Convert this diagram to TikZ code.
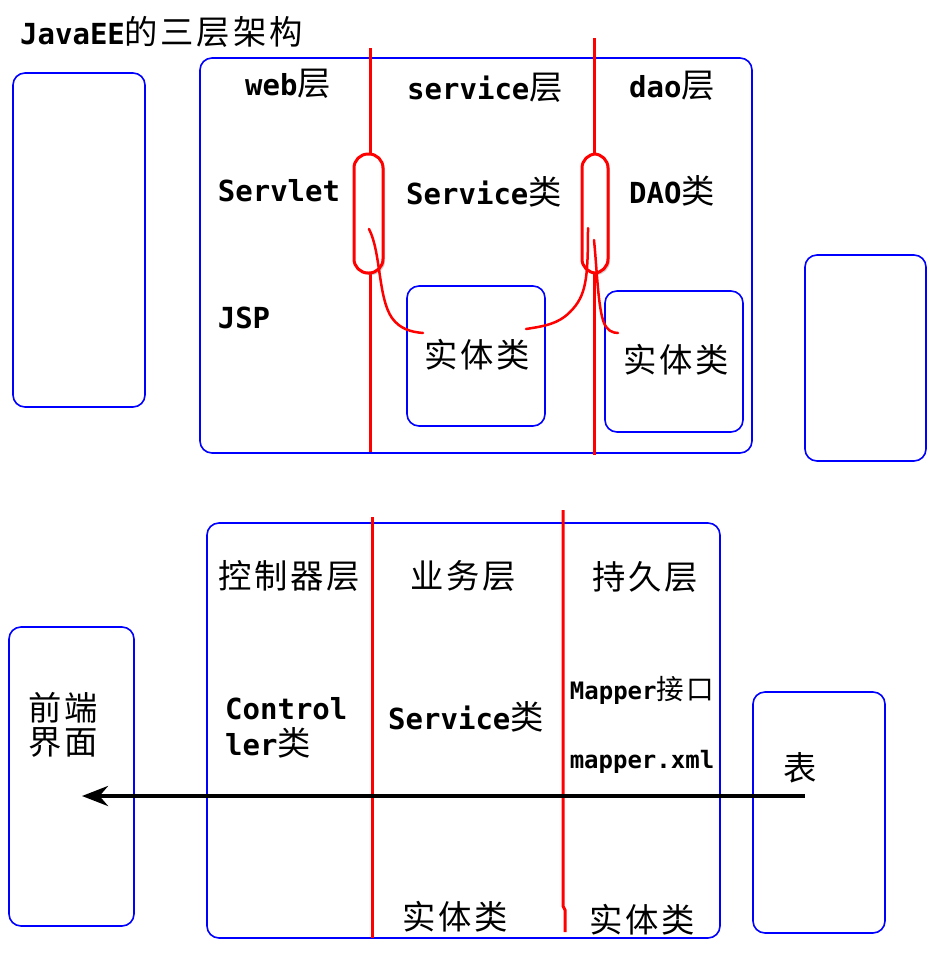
\documentclass[tikz,border=0pt]{standalone}
\usepackage{fontspec}
\setmainfont{DejaVu Sans Mono}
\newfontfamily\cjkfont[Scale=1.15, LetterSpace=8]{Noto Sans CJK SC}
\usetikzlibrary{arrows.meta,shadows}
\newcommand{\zh}[1]{{\mdseries\cjkfont #1}}

\tikzset{
  box/.style={draw=blue, line width=1.6pt, rounded corners=12pt},
  txt/.style={font=\fontsize{29}{34}\selectfont\bfseries, inner sep=0pt},
  smalltxt/.style={font=\fontsize{24}{28}\selectfont\bfseries, inner sep=0pt},
  layerline/.style={draw=red, line width=3pt},
  pill/.style={draw=red, line width=3pt, fill=white, rounded corners=14pt,
    drop shadow={opacity=0.35, shadow xshift=2pt, shadow yshift=-2pt}},
  stroke/.style={red, line width=2.5pt, line cap=round},
}

\begin{document}
\begin{tikzpicture}[x=1pt, y=-1pt]
  \useasboundingbox (0,0) rectangle (933,978);
  \def\headY{86};
  \def\classY{191};
  \def\bheadY{576};
  %
  \node[txt, anchor=west] (title) at (20,32) {JavaEE\zh{的三层架构}};
  % top: three layers
  \draw[box] (13,73) rectangle (145,407);
  \draw[box] (200,58) rectangle (752,453);
  \draw[box] (805,255) rectangle (926,461);
  \draw[box] (407,286) rectangle (545,426);
  \draw[box] (605,291) rectangle (743,432);
  \draw[layerline] (370,48) -- (370,452);
  \draw[layerline] (594,38) -- (594,455);
  \draw[pill] (354,154) rectangle (383,273);
  \draw[pill] (582,154) rectangle (608,273);
  %
  \node[txt] (web)     at (288,\headY-2) {web\zh{层}};
  \node[txt] (service) at (485,\headY+2) {service\zh{层}};
  \node[txt] (dao)     at (672,\headY)   {dao\zh{层}};
  \node[txt] (servlet) at (279,\classY)  {Servlet};
  \node[txt] (srvcls)  at (484,\classY+1) {Service\zh{类}};
  \node[txt] (daocls)  at (672,\classY)  {DAO\zh{类}};
  \node[txt] (jsp)     at (244,318)      {JSP};
  \node[txt] (entityA) at (477,355)      {\zh{实体类}};
  \node[txt] (entityB) at (676,360)      {\zh{实体类}};
  %
  \draw[stroke] (369,229) .. controls (381,252) and (378,298) .. (392,318)
                          .. controls (400,329) and (411,332) .. (423,333);
  \draw[stroke] (526,329) .. controls (545,326) and (558,324) .. (570,312)
                          .. controls (586,296) and (588,280) .. (588,228);
  \draw[stroke] (594,240) .. controls (597,270) and (598,308) .. (604,323)
                          .. controls (607,330) and (612,333) .. (618,333);
  % bottom: three layers
  \draw[box] (9,627) rectangle (134,926);
  \draw[box] (207,523) rectangle (720,938);
  \draw[box] (753,692) rectangle (885,933);
  \draw[layerline] (372,517) -- (372,938);
  \draw[layerline] (563,510) -- (563,906) -- (565,910) -- (565,932);
  %
  \node[txt] (ctrllayer) at (289,\bheadY) {\zh{控制器层}};
  \node[txt] (bizlayer)  at (463,\bheadY) {\zh{业务层}};
  \node[txt] (perslayer) at (645,\bheadY+1) {\zh{持久层}};
  \node[txt, anchor=west] (frontA) at (28,708) {\zh{前端}};
  \node[txt, anchor=west] (frontB) at (28,742) {\zh{界面}};
  \node[txt, anchor=west] (ctrlA)  at (225,709) {Control};
  \node[txt, anchor=west] (ctrlB)  at (225,743) {ler\zh{类}};
  \node[txt] (bizcls) at (466,717) {Service\zh{类}};
  \node[smalltxt] (mapper) at (642,690) {Mapper\zh{接口}};
  \node[smalltxt] (xml)    at (642,762) {mapper.xml};
  \node[txt] (table)   at (800,768) {\zh{表}};
  \node[txt] (entityC) at (455,917) {\zh{实体类}};
  \node[txt] (entityD) at (642,920) {\zh{实体类}};
  %
  \coordinate (arrowtail) at (805,796);
  \coordinate (arrowtip)  at (82,796);
  \draw[-{Stealth[length=26pt,width=20pt]}, line width=4pt] (arrowtail) -- (arrowtip);
\end{tikzpicture}
\end{document}
